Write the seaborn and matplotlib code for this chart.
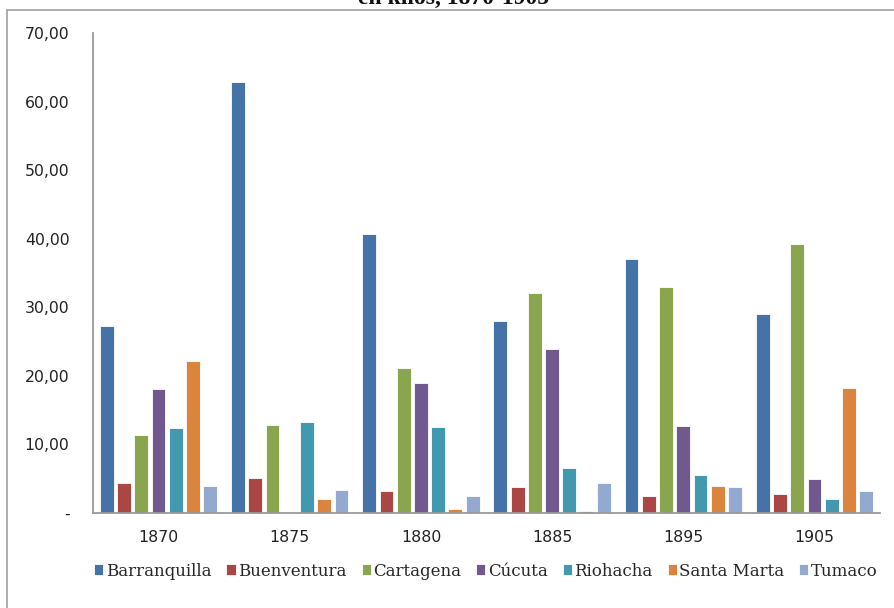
import matplotlib
matplotlib.use("Agg")
import matplotlib.pyplot as plt
from matplotlib.lines import Line2D
import seaborn as sns
import pandas as pd

# Share of each port (%) by year
years = ["1870", "1875", "1880", "1885", "1895", "1905"]
ports = ["Barranquilla", "Buenventura", "Cartagena", "Cúcuta",
         "Riohacha", "Santa Marta", "Tumaco"]
barranquilla = [27.3, 62.9, 40.7, 28.0, 37.0, 29.0]
buenventura = [4.4, 5.1, 3.2, 3.8, 2.5, 2.7]
cartagena = [11.4, 12.9, 21.1, 32.1, 32.9, 39.2]
cucuta = [18.1, 0.0, 19.0, 23.9, 12.7, 4.9]
riohacha = [12.4, 13.3, 12.5, 6.6, 5.6, 2.1]
santa_marta = [22.1, 2.1, 0.6, 0.3, 4.0, 18.3]
tumaco = [4.0, 3.4, 2.5, 4.4, 3.8, 3.2]
y_ticks = [0, 10, 20, 30, 40, 50, 60, 70]
title_text = "en kilos, 1870-1905"

series = [barranquilla, buenventura, cartagena, cucuta, riohacha, santa_marta, tumaco]
rows = []
for port, vals in zip(ports, series):
    for yr, v in zip(years, vals):
        rows.append({"Año": yr, "Puerto": port, "Valor": v})
df = pd.DataFrame(rows)

palette = ["#4572A7", "#AA4643", "#89A54E", "#71588F",
           "#4198AF", "#DB843D", "#93A9CF"]

sns.set_theme(style="white")
fig = plt.figure(figsize=(8.95, 6.08), dpi=100)
ax = fig.add_axes([93 / 895, 1 - 513 / 608, (880 - 93) / 895, (513 - 33) / 608])

sns.barplot(data=df, x="Año", y="Valor", hue="Puerto", order=years,
            hue_order=ports, palette=palette, width=0.92, gap=0.2,
            edgecolor="white", linewidth=0.6, saturation=1, ax=ax)

ax.set_ylim(0, 70)
ax.set_xlim(-0.5, len(years) - 0.5)
ax.set_yticks(y_ticks)
ax.set_yticklabels(["-"] + [f"{t:.2f}".replace(".", ",") for t in y_ticks[1:]],
                   fontfamily="DejaVu Sans", fontsize=11.3, color="#222222")
ax.set_xticks(range(len(years)))
ax.set_xticklabels(years, fontfamily="DejaVu Sans", fontsize=11.3, color="#222222")
ax.tick_params(axis="y", length=0, pad=17)
ax.tick_params(axis="x", length=0, pad=12)
ax.set_xlabel("")
ax.set_ylabel("")
for side in ("top", "right"):
    ax.spines[side].set_visible(False)
for side in ("left", "bottom"):
    ax.spines[side].set_color("#9a9a9a")
    ax.spines[side].set_linewidth(1.3)

handles, labels = ax.get_legend_handles_labels()
ax.legend(handles, labels, loc="center", bbox_to_anchor=(486 / 895, 1 - 571 / 608),
          bbox_transform=fig.transFigure, ncol=7, frameon=False,
          prop={"family": "DejaVu Serif", "size": 12},
          handlelength=0.55, handleheight=0.6, handletextpad=0.15,
          columnspacing=0.9, borderaxespad=0)

# Outer chart frame (only top and left edges fall inside the canvas)
frame_color = "#a0a0a0"
fig.add_artist(Line2D([7 / 895, 1.0], [1 - 10 / 608, 1 - 10 / 608],
                      transform=fig.transFigure, color=frame_color, lw=1.2))
fig.add_artist(Line2D([7 / 895, 7 / 895], [0, 1 - 10 / 608],
                      transform=fig.transFigure, color=frame_color, lw=1.2))

fig.text(454 / 895, 1 - 4 / 608, title_text, ha="center", va="baseline",
         fontfamily="Liberation Serif", fontweight="bold", fontsize=17,
         color="#111111")

fig.savefig("out.png", dpi=100)
